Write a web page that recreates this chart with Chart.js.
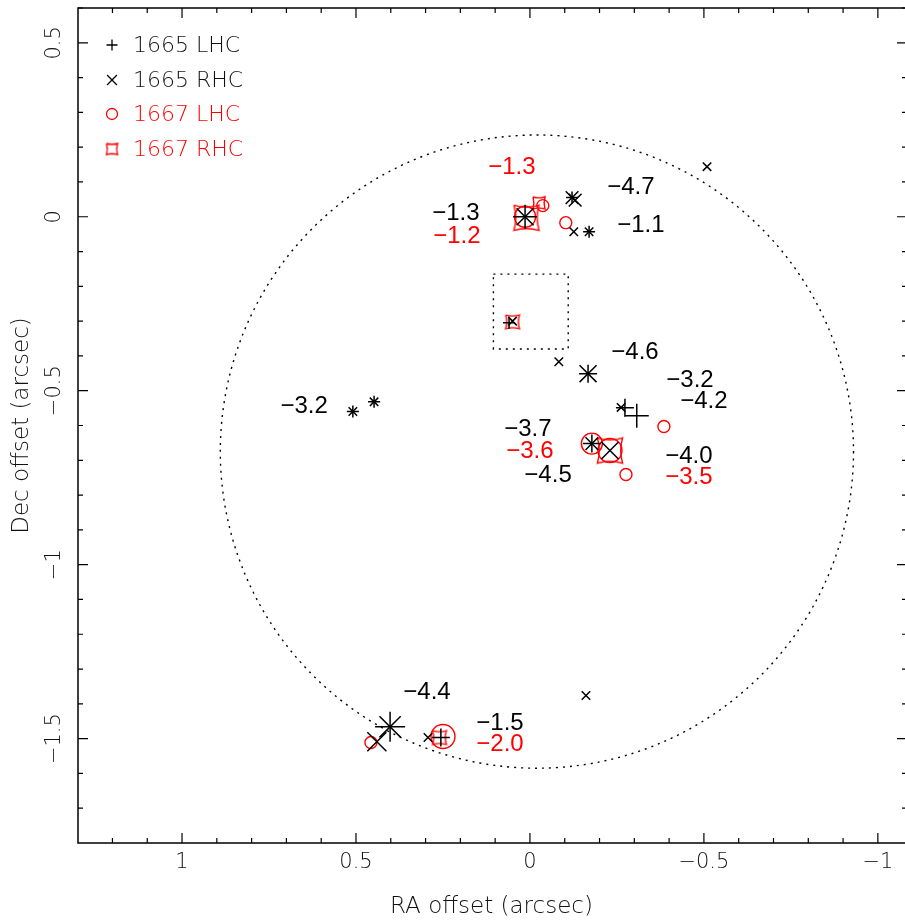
<!DOCTYPE html>
<html lang="en">
<head>
<meta charset="UTF-8">
<script src="https://cdn.jsdelivr.net/npm/chart.js"></script>
<title>OH maser spots</title>
<style>
  body { margin: 0; background: #fff; }
</style>
</head>
<body>
<canvas id="maserChart" width="905" height="920"></canvas>
<script>
// 1665 MHz, LHC (+)
const lhc1665Ra   = [0.014, -0.121, -0.170, 0.060, -0.167, -0.273, -0.307, -0.178, 0.509, 0.448, 0.402, 0.256];
const lhc1665Dec  = [0.000, 0.055, -0.043, -0.305, -0.451, -0.549, -0.572, -0.652, -0.560, -0.532, -1.466, -1.497];
const lhc1665Flux = [4, 2, 2, 2, 3, 3, 4, 3, 2, 2, 5, 3];

// 1665 MHz, RHC (x)
const rhc1665Ra   = [0.014, -0.121, -0.130, -0.126, -0.170, -0.509, 0.050, -0.083, -0.167, -0.262, -0.178, -0.230, 0.509, 0.448, 0.402, 0.440, 0.293, -0.161];
const rhc1665Dec  = [0.000, 0.055, 0.048, -0.043, -0.043, 0.144, -0.300, -0.417, -0.451, -0.548, -0.652, -0.672, -0.560, -0.532, -1.466, -1.509, -1.497, -1.376];
const rhc1665Flux = [4, 3, 3, 2, 2, 2, 2, 2, 4, 2, 3, 4, 2, 2, 5, 4.5, 2, 2];

// 1667 MHz, LHC (o)
const lhc1667Ra   = [0.014, -0.037, -0.103, -0.385, -0.178, -0.230, -0.276, 0.457, 0.250];
const lhc1667Dec  = [0.000, 0.032, -0.017, -0.603, -0.652, -0.672, -0.741, -1.511, -1.494];
const lhc1667Flux = [3.5, 2, 2, 2, 3.5, 4, 2, 2, 4];

// 1667 MHz, RHC (square)
const rhc1667Ra   = [0.010, -0.026, 0.050, -0.230, 0.260];
const rhc1667Dec  = [-0.003, 0.040, -0.302, -0.672, -1.497];
const rhc1667Flux = [4.2, 2, 2.3, 4.2, 2.3];

// velocity labels (km/s)
const vel1665Text = ['\u22121.3', '\u22124.7', '\u22121.1', '\u22124.6', '\u22123.2', '\u22124.2', '\u22123.2', '\u22123.7', '\u22124.5', '\u22124.0', '\u22124.4', '\u22121.5'];
const vel1665Ra   = [0.213, -0.290, -0.319, -0.302, -0.460, -0.500, 0.649, 0.006, -0.052, -0.457, 0.296, 0.086];
const vel1665Dec  = [0.011, 0.083, -0.026, -0.391, -0.471, -0.532, -0.546, -0.612, -0.744, -0.690, -1.368, -1.457];
const vel1667Text = ['\u22121.3', '\u22121.2', '\u22123.6', '\u22123.5', '\u22122.0'];
const vel1667Ra   = [0.052, 0.210, 0.000, -0.457, 0.086];
const vel1667Dec  = [0.141, -0.055, -0.675, -0.750, -1.517];

// dotted box and circle
const boxRa  = [0.105, -0.110, -0.110, 0.105, 0.105];
const boxDec = [-0.165, -0.165, -0.380, -0.380, -0.165];
const circleRa = -0.02, circleDec = -0.675, circleRadius = 0.91;

const legendNames = ['1665 LHC', '1665 RHC', '1667 LHC', '1667 RHC'];

const RED = '#ff0000';
const GREY = '#111';
const tickFont = 'DejaVu Sans';

function toPoints(xs, ys) {
  return xs.map((x, i) => ({ x: x, y: ys[i] }));
}

function fmt(v) {
  return v === 0 ? '0' : (v < 0 ? '\u2212' + Math.abs(v) : String(v));
}

// concave-sided square marker
const squareCache = {};
function squareIcon(r) {
  const key = r.toFixed(1);
  if (squareCache[key]) return squareCache[key];
  const c = document.createElement('canvas');
  const s = Math.ceil(2 * r + 4);
  c.width = s; c.height = s;
  const g = c.getContext('2d');
  const m = s / 2;
  const k = r * 0.3;
  g.strokeStyle = RED;
  g.lineWidth = 1.4;
  g.beginPath();
  g.moveTo(m - r, m - r);
  g.quadraticCurveTo(m, m - r + k, m + r, m - r);
  g.quadraticCurveTo(m + r - k, m, m + r, m + r);
  g.quadraticCurveTo(m, m + r - k, m - r, m + r);
  g.quadraticCurveTo(m - r + k, m, m - r, m - r);
  g.stroke();
  squareCache[key] = c;
  return c;
}

function drawMarker(ctx, style, x, y, r, color) {
  ctx.save();
  ctx.strokeStyle = color;
  ctx.lineWidth = 1.3;
  ctx.beginPath();
  if (style === 'cross') {
    ctx.moveTo(x - r, y); ctx.lineTo(x + r, y);
    ctx.moveTo(x, y - r); ctx.lineTo(x, y + r);
    ctx.stroke();
  } else if (style === 'crossRot') {
    const d = r * 0.7071;
    ctx.moveTo(x - d, y - d); ctx.lineTo(x + d, y + d);
    ctx.moveTo(x - d, y + d); ctx.lineTo(x + d, y - d);
    ctx.stroke();
  } else if (style === 'circle') {
    ctx.arc(x, y, r, 0, Math.PI * 2);
    ctx.stroke();
  } else {
    const img = squareIcon(r);
    ctx.drawImage(img, x - img.width / 2, y - img.height / 2);
  }
  ctx.restore();
}

const overlayPlugin = {
  id: 'overlay',
  beforeDatasetsDraw(chart) {
    const ctx = chart.ctx;
    const xs = chart.scales.x, ys = chart.scales.y;
    // dotted circle
    const cx = xs.getPixelForValue(circleRa);
    const cy = ys.getPixelForValue(circleDec);
    const rx = Math.abs(xs.getPixelForValue(circleRa + circleRadius) - cx);
    const ry = Math.abs(ys.getPixelForValue(circleDec + circleRadius) - cy);
    ctx.save();
    ctx.strokeStyle = '#000';
    ctx.lineWidth = 1.4;
    ctx.setLineDash([2, 5]);
    ctx.beginPath();
    ctx.ellipse(cx, cy, rx, ry, 0, 0, Math.PI * 2);
    ctx.stroke();
    ctx.restore();
  },
  afterDatasetsDraw(chart) {
    const ctx = chart.ctx;
    const a = chart.chartArea;
    const xs = chart.scales.x, ys = chart.scales.y;
    const rightEdge = a.right + 2; // right frame sits just past the canvas edge
    ctx.save();
    // frame (left, top, bottom; right one falls off the canvas)
    ctx.strokeStyle = '#000';
    ctx.lineWidth = 1.5;
    ctx.beginPath();
    ctx.moveTo(rightEdge, a.top);
    ctx.lineTo(a.left, a.top);
    ctx.lineTo(a.left, a.bottom);
    ctx.lineTo(rightEdge, a.bottom);
    ctx.stroke();
    // ticks pointing inward
    ctx.lineWidth = 1.2;
    ctx.beginPath();
    for (let i = -10; i <= 12; i++) {
      const px = xs.getPixelForValue(i / 10);
      const len = i % 5 === 0 ? 10 : 5;
      ctx.moveTo(px, a.bottom); ctx.lineTo(px, a.bottom - len);
      ctx.moveTo(px, a.top); ctx.lineTo(px, a.top + len);
    }
    for (let i = -17; i <= 6; i++) {
      const py = ys.getPixelForValue(i / 10);
      const len = i % 5 === 0 ? 10 : 5;
      ctx.moveTo(a.left, py); ctx.lineTo(a.left + len, py);
      ctx.moveTo(rightEdge, py); ctx.lineTo(rightEdge - len, py);
    }
    ctx.stroke();
    // y tick labels, rotated
    ctx.fillStyle = GREY;
    ctx.font = '200 21px "' + tickFont + '"';
    ctx.textAlign = 'center';
    ctx.textBaseline = 'middle';
    [0.5, 0, -0.5, -1, -1.5].forEach(v => {
      const py = ys.getPixelForValue(v);
      ctx.save();
      ctx.translate(55, py);
      ctx.rotate(-Math.PI / 2);
      ctx.fillText(fmt(v), 0, 0);
      ctx.restore();
    });
    // velocity labels
    ctx.font = '24px "Liberation Sans"';
    ctx.fillStyle = '#000';
    vel1665Text.forEach((t, i) => {
      ctx.fillText(t, xs.getPixelForValue(vel1665Ra[i]), ys.getPixelForValue(vel1665Dec[i]));
    });
    ctx.fillStyle = RED;
    vel1667Text.forEach((t, i) => {
      ctx.fillText(t, xs.getPixelForValue(vel1667Ra[i]), ys.getPixelForValue(vel1667Dec[i]));
    });
    // legend
    const styles = ['cross', 'crossRot', 'circle', 'square'];
    const colors = ['#000', '#000', RED, RED];
    const rows = [45, 80, 114, 149];
    ctx.font = '200 22px "' + tickFont + '"';
    ctx.textAlign = 'left';
    legendNames.forEach((name, i) => {
      drawMarker(ctx, styles[i], 112, rows[i], styles[i] === 'crossRot' ? 7 : 5.5, colors[i]);
      ctx.fillStyle = colors[i] === '#000' ? GREY : RED;
      ctx.fillText(name, 133, rows[i] + 1);
    });
    ctx.restore();
  }
};

const radiusOf = flux => ctx => flux[ctx.dataIndex] * 3;

const noPadding = s => {
  s.paddingLeft = 0; s.paddingRight = 0;
  s.paddingTop = 0; s.paddingBottom = 0;
};

new Chart(document.getElementById('maserChart'), {
  type: 'scatter',
  data: {
    datasets: [
      {
        label: 'box',
        data: toPoints(boxRa, boxDec),
        showLine: true,
        borderColor: '#000',
        borderWidth: 1.4,
        borderDash: [2, 5],
        pointRadius: 0
      },
      {
        label: '1665 LHC',
        data: toPoints(lhc1665Ra, lhc1665Dec),
        pointStyle: 'cross',
        pointRadius: radiusOf(lhc1665Flux),
        borderColor: '#000',
        backgroundColor: 'transparent',
        pointBorderWidth: 1.5
      },
      {
        label: '1665 RHC',
        data: toPoints(rhc1665Ra, rhc1665Dec),
        pointStyle: 'crossRot',
        pointRadius: radiusOf(rhc1665Flux),
        borderColor: '#000',
        backgroundColor: 'transparent',
        pointBorderWidth: 1.5
      },
      {
        label: '1667 LHC',
        data: toPoints(lhc1667Ra, lhc1667Dec),
        pointStyle: 'circle',
        pointRadius: radiusOf(lhc1667Flux),
        borderColor: RED,
        backgroundColor: 'transparent',
        pointBorderWidth: 1.4
      },
      {
        label: '1667 RHC',
        data: toPoints(rhc1667Ra, rhc1667Dec),
        pointStyle: ctx => squareIcon(rhc1667Flux[ctx.dataIndex] * 3),
        pointRadius: radiusOf(rhc1667Flux),
        borderColor: RED,
        backgroundColor: 'transparent'
      }
    ]
  },
  options: {
    responsive: false,
    animation: false,
    events: [],
    layout: { autoPadding: false, padding: { top: 8, right: 0, left: 0, bottom: 0 } },
    plugins: {
      legend: { display: false },
      tooltip: { enabled: false }
    },
    scales: {
      x: {
        type: 'linear',
        min: -1.078,
        max: 1.299,
        reverse: true,
        grid: { display: false, drawTicks: false },
        border: { display: false },
        afterBuildTicks: s => { s.ticks = [1, 0.5, 0, -0.5, -1].map(v => ({ value: v })); },
        afterFit: s => { s.height = 77; noPadding(s); },
        ticks: {
          padding: 7,
          color: GREY,
          maxRotation: 0,
          font: { family: tickFont, size: 21, weight: 200 },
          callback: v => fmt(v)
        },
        title: {
          display: true,
          text: 'RA offset (arcsec)',
          color: GREY,
          font: { family: tickFont, size: 23, weight: 200, lineHeight: 1 },
          padding: { top: 0, bottom: 1 }
        }
      },
      y: {
        type: 'linear',
        min: -1.8,
        max: 0.6,
        grid: { display: false, drawTicks: false },
        border: { display: false },
        ticks: { display: false },
        afterFit: s => { s.width = 78; noPadding(s); },
        title: {
          display: true,
          text: 'Dec offset (arcsec)',
          color: GREY,
          font: { family: tickFont, size: 23, weight: 200, lineHeight: 1 },
          padding: { top: 11, bottom: 0 }
        }
      }
    }
  },
  plugins: [overlayPlugin]
});
</script>
</body>
</html>
